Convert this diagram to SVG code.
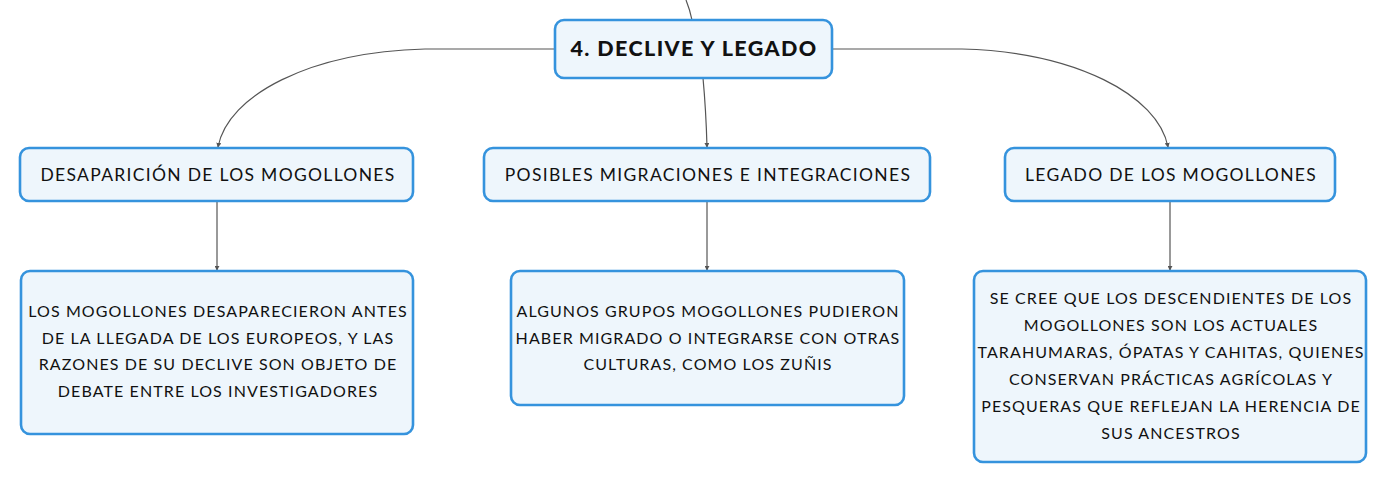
<svg xmlns="http://www.w3.org/2000/svg" width="1387" height="483" viewBox="0 0 1387 483">
<defs>
<style>
.box{fill:#eef6fc;stroke:#3593dd;stroke-width:2.6}
.t{font-family:Lato,"Open Sans","DejaVu Sans",sans-serif;font-size:17.5px;letter-spacing:1.3px;fill:#111;text-anchor:middle}
.b{font-family:Lato,"Open Sans","DejaVu Sans",sans-serif;font-size:16px;letter-spacing:1.1px;fill:#111;text-anchor:middle}
.root{font-family:Lato,"Open Sans","DejaVu Sans",sans-serif;font-size:21.5px;font-weight:900;letter-spacing:1.4px;fill:#111;text-anchor:middle}
.c{fill:none;stroke:#555;stroke-width:1.2}
</style>
<marker id="ah" viewBox="0 0 6 6" refX="5" refY="3" markerWidth="5" markerHeight="5" orient="auto" markerUnits="userSpaceOnUse">
<path d="M0,0 L6,3 L0,6 z" fill="#555"/>
</marker>
</defs>
<g id="connectors">
<path class="c" d="M686,0 Q690,10 692,20"/>
<path class="c" d="M555,49 L425,49 C310,52 228,95 218,147" marker-end="url(#ah)"/>
<path class="c" d="M703,78 Q706,110 707,147" marker-end="url(#ah)"/>
<path class="c" d="M832,49 L962,49 C1075,52 1158,95 1168,147" marker-end="url(#ah)"/>
<path class="c" d="M217,201 L217,270" marker-end="url(#ah)"/>
<path class="c" d="M707,201 L707,270" marker-end="url(#ah)"/>
<path class="c" d="M1170,201 L1170,270" marker-end="url(#ah)"/>
</g>
<g id="root">
<rect class="box" x="555" y="20" width="277" height="58" rx="9"/>
<text class="root" x="694" y="56">4. DECLIVE Y LEGADO</text>
</g>
<g id="n-desaparicion">
<rect class="box" x="20" y="148" width="393" height="53" rx="9"/>
<text class="t" x="218" y="181">DESAPARICIÓN DE LOS MOGOLLONES</text>
</g>
<g id="n-migraciones">
<rect class="box" x="484" y="148" width="446" height="53" rx="9"/>
<text class="t" x="708" y="181">POSIBLES MIGRACIONES E INTEGRACIONES</text>
</g>
<g id="n-legado">
<rect class="box" x="1005" y="148" width="330" height="53" rx="9"/>
<text class="t" x="1171" y="181">LEGADO DE LOS MOGOLLONES</text>
</g>
<g id="n-desaparicion-detalle">
<rect class="box" x="21" y="271" width="392" height="163" rx="9"/>
<text class="b" x="218" y="317">LOS MOGOLLONES DESAPARECIERON ANTES</text>
<text class="b" x="218" y="344">DE LA LLEGADA DE LOS EUROPEOS, Y LAS</text>
<text class="b" x="218" y="370">RAZONES DE SU DECLIVE SON OBJETO DE</text>
<text class="b" x="218" y="397">DEBATE ENTRE LOS INVESTIGADORES</text>
</g>
<g id="n-migraciones-detalle">
<rect class="box" x="511" y="271" width="393" height="134" rx="9"/>
<text class="b" x="708" y="317">ALGUNOS GRUPOS MOGOLLONES PUDIERON</text>
<text class="b" x="708" y="344">HABER MIGRADO O INTEGRARSE CON OTRAS</text>
<text class="b" x="708" y="370">CULTURAS, COMO LOS ZUÑIS</text>
</g>
<g id="n-legado-detalle">
<rect class="box" x="974" y="271" width="392" height="191" rx="9"/>
<text class="b" x="1171" y="304">SE CREE QUE LOS DESCENDIENTES DE LOS</text>
<text class="b" x="1171" y="331">MOGOLLONES SON LOS ACTUALES</text>
<text class="b" x="1171" y="358">TARAHUMARAS, ÓPATAS Y CAHITAS, QUIENES</text>
<text class="b" x="1171" y="385">CONSERVAN PRÁCTICAS AGRÍCOLAS Y</text>
<text class="b" x="1171" y="412">PESQUERAS QUE REFLEJAN LA HERENCIA DE</text>
<text class="b" x="1171" y="439">SUS ANCESTROS</text>
</g>
</svg>
